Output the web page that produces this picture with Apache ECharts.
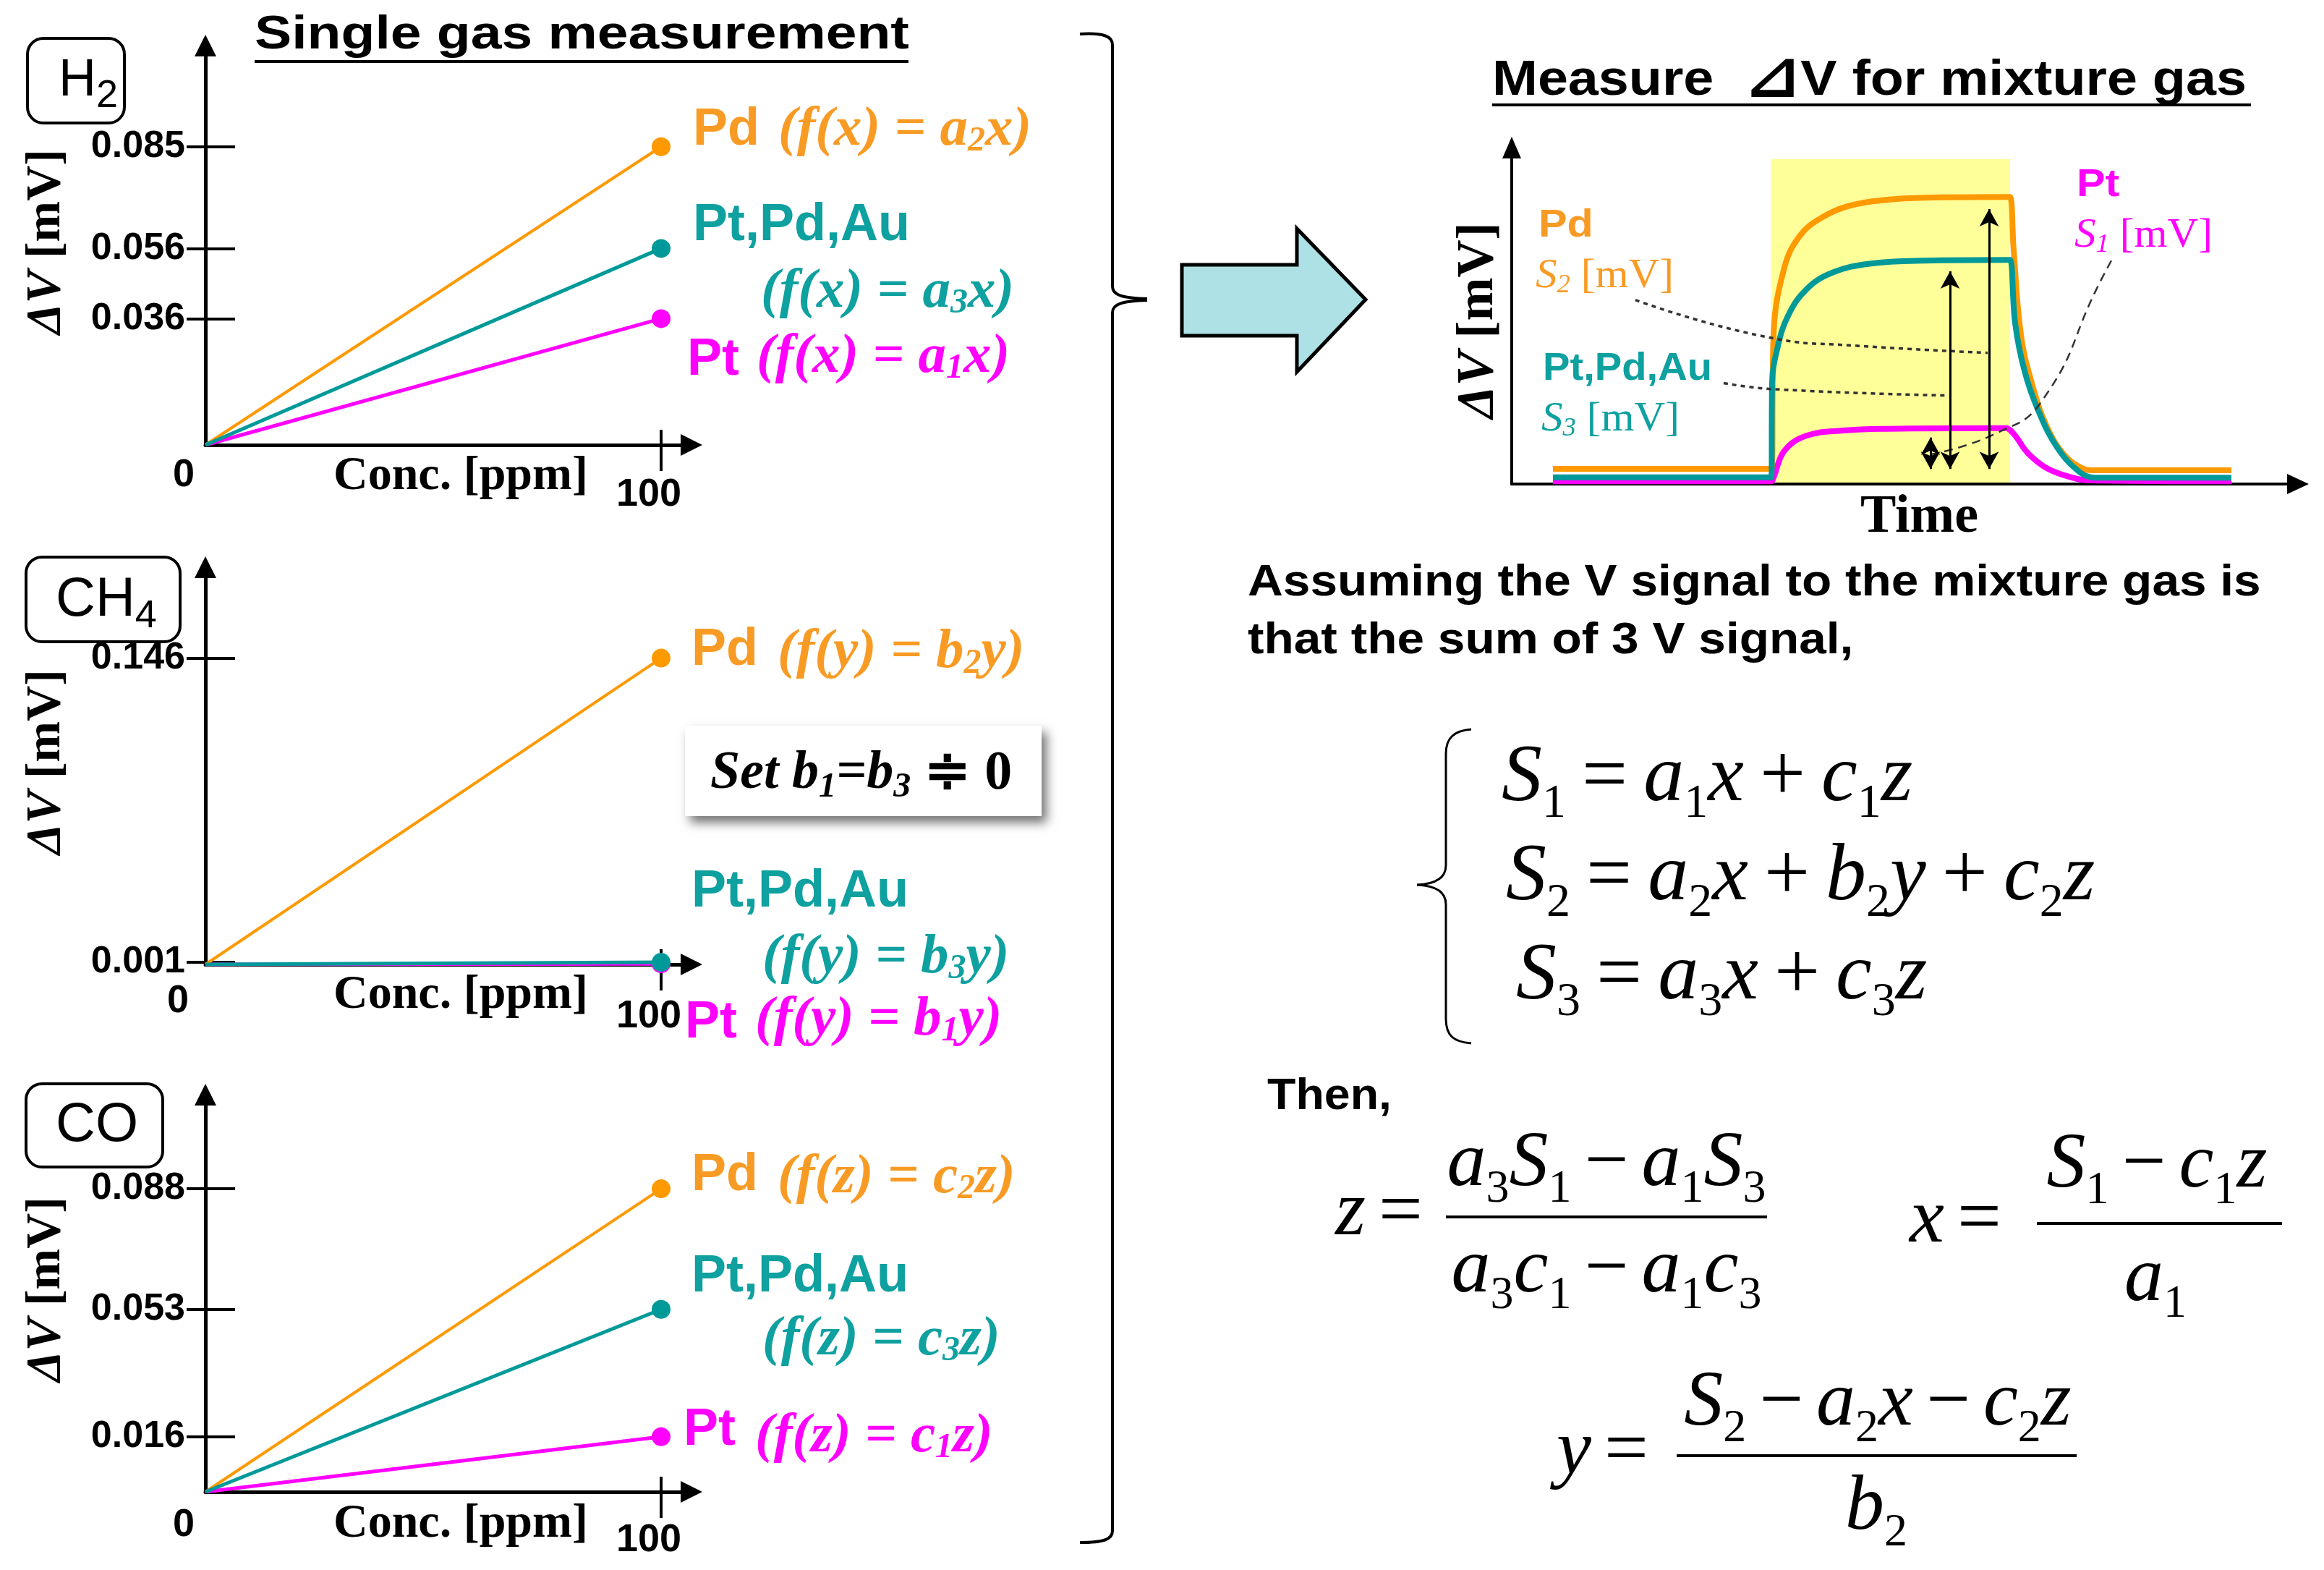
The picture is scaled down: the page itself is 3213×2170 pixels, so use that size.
<!DOCTYPE html>
<html>
<head>
<meta charset="utf-8">
<title>Single gas measurement / mixture gas</title>
<script src="https://cdn.jsdelivr.net/npm/echarts@6.0.0/dist/echarts.min.js"></script>
<style>
html, body { margin: 0; padding: 0; background: #ffffff; }
#chart { width: 3213px; height: 2170px; }
</style>
</head>
<body>
<div id="chart"></div>
<script>
// ===================== DATA =====================
// single gas calibration lines: ΔV [mV] at 0 and 100 ppm
const sensorNames = ['Pt', 'Pd', 'Pt,Pd,Au'];
const concPoints = [0, 100];
const concTicks = [0, 100];
const h2Response = [0.036, 0.085, 0.056];   // a1, a2, a3 (x100)
const ch4Response = [0.0003, 0.146, 0.001]; // b1, b2, b3 (x100)
const coResponse = [0.016, 0.088, 0.053];   // c1, c2, c3 (x100)
const h2Ticks = [0.085, 0.056, 0.036];
const ch4Ticks = [0.146, 0.001];
const coTicks = [0.088, 0.053, 0.016];

// schematic mixture-gas response (time, ΔV in arbitrary units 0-100)
const pdTrace = [[5.7,4.5],[35.4,4.5],[35.9,4.5],[36.2,44.4],[37.7,64.4],[39.8,73.7],[42.8,79.1],[46.9,82.8],[52.0,84.5],[57.1,85.1],[68.5,85.3],[68.9,85.3],[69.4,69.4],[70.4,44.4],[71.9,30.0],[74.0,17.0],[76.5,8.4],[79.1,4.5],[80.2,4.1],[99.5,4.1]];
const triTrace = [[5.7,2.0],[35.4,2.0],[35.9,2.0],[36.0,30.0],[36.7,40.1],[38.2,50.0],[40.8,58.0],[44.4,62.9],[49.5,65.5],[57.1,66.4],[68.5,66.6],[68.9,66.6],[69.6,47.8],[70.9,33.6],[72.9,21.3],[75.5,10.6],[78.6,3.4],[80.6,1.9],[99.5,1.9]];
const ptTrace = [[5.7,0.8],[35.4,0.8],[35.9,0.8],[36.2,1.9],[37.7,9.9],[40.8,14.4],[45.9,15.9],[52.0,16.4],[67.9,16.6],[68.3,16.6],[69.4,14.9],[71.4,9.1],[74.0,4.7],[77.5,1.9],[79.6,1.1],[99.5,0.8]];
const gasWindow = [35.9, 68.9];
const windowTop = 96.6;
const signalTimes = [57.9, 60.6, 66.0];   // S1 (Pt), S3 (Pt,Pd,Au), S2 (Pd)
const signalTops = [16.4, 65.8, 84.3];
const signalBase = 1.9;
const leaderS2 = [[17.1,54.7],[36.2,43.3],[46.9,41.2],[65.8,39.0]];
const leaderS3 = [[29.3,30.0],[36.2,28.2],[60.4,26.3]];
const leaderS1 = [[82.9,66.4],[81.0,58.6],[73.4,25.0],[66.8,14.9],[57.9,8.8]];

// ===================== STYLE =====================
const SANS = '"Liberation Sans", Arial, Helvetica, sans-serif';
const SERIF = '"Liberation Serif", "Times New Roman", Times, serif';
const lineColors = ['#FF00FF', '#FF9900', '#009999'];
const textColors = ['#FF00FF', '#F89B25', '#0FA0A0'];
const lineWidths = [5, 4, 5];

const X_MAX = 100 * 672 / 630;
const panels = [
  { resp: h2Response, ticks: h2Ticks, top: 63, height: 552, pxPerUnit: 4850, zeroShift: 30, zeroMargin: 15, hundredDrop: 27, nameGap: 11 },
  { resp: ch4Response, ticks: ch4Ticks, top: 784, height: 549, pxPerUnit: 2900, zeroShift: 38, zeroMargin: 24, hundredDrop: 21, nameGap: 10 },
  { resp: coResponse, ticks: coTicks, top: 1513, height: 549, pxPerUnit: 4760, zeroShift: 30, zeroMargin: 19, hundredDrop: 21, nameGap: 12 }
];

const grid = [], xAxis = [], yAxis = [], series = [];
const axisLineStyle = { color: '#000', width: 5 };
const tickStyle = { color: '#000', width: 4 };

panels.forEach((p, k) => {
  grid.push({ left: 284, top: p.top, width: 672, height: p.height, containLabel: false, outerBoundsMode: 'none' });
  const ymax = p.height / p.pxPerUnit;
  xAxis.push({
    type: 'value', gridIndex: k, position: 'bottom', min: 0, max: X_MAX,
    axisLine: { show: true, onZero: false, lineStyle: axisLineStyle, symbol: ['none', 'triangle'], symbolSize: [30, 30] },
    axisTick: { show: true, inside: true, length: 21, customValues: [100], lineStyle: tickStyle },
    axisLabel: {
      show: true, customValues: concTicks, margin: p.zeroMargin,
      formatter: v => v === 0 ? '{z|0}' : '{h|' + v + '}',
      rich: {
        z: { fontFamily: SANS, fontWeight: 'bold', fontSize: 54, color: '#000', padding: [0, p.zeroShift * 2, 0, 0] },
        h: { fontFamily: SANS, fontWeight: 'bold', fontSize: 54, color: '#000', padding: [p.hundredDrop, 34, 0, 0] }
      }
    },
    splitLine: { show: false },
    name: 'Conc. [ppm]', nameLocation: 'middle', nameGap: p.nameGap, nameMoveOverlap: false,
    nameTextStyle: { fontFamily: SERIF, fontWeight: 'bold', fontSize: 66, color: '#000', padding: [0, 0, 0, 34] }
  });
  xAxis.push({
    type: 'value', gridIndex: k, position: 'bottom', min: 0, max: X_MAX,
    axisLine: { show: false, onZero: false },
    axisTick: { show: true, inside: false, length: 36, customValues: [100], lineStyle: tickStyle },
    axisLabel: { show: false }, splitLine: { show: false }
  });
  yAxis.push({
    type: 'value', gridIndex: k, position: 'left', min: 0, max: ymax,
    axisLine: { show: true, onZero: false, lineStyle: axisLineStyle, symbol: ['none', 'triangle'], symbolSize: [30, 30] },
    axisTick: { show: true, inside: true, length: 41, customValues: p.ticks, lineStyle: tickStyle },
    axisLabel: { show: true, customValues: p.ticks, margin: 28, formatter: v => v.toFixed(3),
      fontFamily: SANS, fontWeight: 'bold', fontSize: 52, color: '#000' },
    splitLine: { show: false }
  });
  yAxis.push({
    type: 'value', gridIndex: k, position: 'left', min: 0, max: ymax,
    axisLine: { show: false, onZero: false },
    axisTick: { show: true, inside: false, length: 26, customValues: p.ticks, lineStyle: tickStyle },
    axisLabel: { show: false }, splitLine: { show: false }
  });
  sensorNames.forEach((name, i) => {
    series.push({
      name: name, type: 'line', xAxisIndex: 2 * k, yAxisIndex: 2 * k,
      data: [{ value: [concPoints[0], 0], symbol: 'none' }, { value: [concPoints[1], p.resp[i]] }],
      symbol: 'circle', symbolSize: 26, showSymbol: true,
      lineStyle: { color: lineColors[i], width: lineWidths[i] },
      itemStyle: { color: lineColors[i] },
      z: 3 + i, silent: true
    });
  });
});

// time-response chart
grid.push({ left: 2090, top: 204, width: 1087, height: 465, containLabel: false, outerBoundsMode: 'none' });
xAxis.push({
  type: 'value', gridIndex: 3, position: 'bottom', min: 0, max: 108.7, z: 3,
  axisLine: { show: true, onZero: false, lineStyle: { color: '#000', width: 4 }, symbol: ['none', 'triangle'], symbolSize: [28, 30] },
  axisTick: { show: false }, axisLabel: { show: false }, splitLine: { show: false },
  name: 'Time', nameLocation: 'middle', nameGap: 10, nameMoveOverlap: false,
  nameTextStyle: { fontFamily: SERIF, fontWeight: 'bold', fontSize: 74, color: '#000', padding: [0, 0, 0, 40] }
});
yAxis.push({
  type: 'value', gridIndex: 3, position: 'left', min: 0, max: 100, z: 3,
  axisLine: { show: true, onZero: false, lineStyle: { color: '#000', width: 4 }, symbol: ['none', 'triangle'], symbolSize: [26, 30] },
  axisTick: { show: false }, axisLabel: { show: false }, splitLine: { show: false }
});
const TX = 6, TY = 6;
series.push({
  type: 'line', xAxisIndex: TX, yAxisIndex: TY, data: [], silent: true, z: 1,
  markArea: { silent: true, itemStyle: { color: '#FFFF99', opacity: 1 },
    data: [[{ coord: [gasWindow[0], 0] }, { coord: [gasWindow[1], windowTop] }]] }
});
[[ptTrace, 0], [pdTrace, 1], [triTrace, 2]].forEach(([trace, i]) => {
  series.push({
    name: sensorNames[i] + ' response', type: 'line', xAxisIndex: TX, yAxisIndex: TY,
    data: trace, smooth: 0.4, symbol: 'none', silent: true,
    lineStyle: { color: lineColors[i], width: 8, join: 'round' }, z: 3
  });
});
[[leaderS2, [6, 6], 3.5], [leaderS3, [6, 6], 3.5], [leaderS1, [12, 8], 2.5]].forEach(([pts, dash, w]) => {
  series.push({
    type: 'line', xAxisIndex: TX, yAxisIndex: TY, data: pts, smooth: 0.5, symbol: 'none', silent: true,
    lineStyle: { color: '#333', width: w, type: dash }, z: 4
  });
});
const ARROW_INSET = 12 / 4.65;
series.push({
  type: 'line', xAxisIndex: TX, yAxisIndex: TY, data: [], silent: true, z: 5,
  markLine: {
    silent: true, symbol: ['arrow', 'arrow'], symbolSize: [20, 24],
    lineStyle: { color: '#000', width: 3, type: 'solid' }, label: { show: false },
    emphasis: { disabled: true },
    data: signalTimes.map((t, i) => [{ coord: [t, signalBase + ARROW_INSET] }, { coord: [t, signalTops[i] - ARROW_INSET] }])
  }
});

// ===================== GRAPHICS (text & shapes) =====================
function T(x, y, text, o) {
  return {
    type: 'text', x: x, y: y, rotation: o.rot || 0, scaleX: o.sx || 1, z: 50, silent: true,
    style: {
      text: text, fontFamily: o.ff || SANS, fontSize: o.fs || 60, fontWeight: o.fw || 'normal',
      fontStyle: o.fi || 'normal', fill: o.c || '#000', align: o.al || 'left', verticalAlign: 'middle',
      rich: o.rich
    }
  };
}
function L(x1, y1, x2, y2, w) {
  return { type: 'line', z: 50, silent: true, shape: { x1, y1, x2, y2 }, style: { stroke: '#000', lineWidth: w || 4 } };
}
function B(x1, y1, cpx1, cpy1, cpx2, cpy2, x2, y2, w) {
  return { type: 'bezierCurve', z: 50, silent: true, shape: { x1, y1, cpx1, cpy1, cpx2, cpy2, x2, y2 },
    style: { stroke: '#000', lineWidth: w || 4, fill: null } };
}
function fml(x, y, color, pre, sub, post) {
  return T(x, y, '{f|' + pre + '}{s|' + sub + '}{f|' + post + '}', {
    rich: {
      f: { fontFamily: SERIF, fontSize: 77, fontWeight: 'bold', fontStyle: 'italic', fill: color },
      s: { fontFamily: SERIF, fontSize: 48, fontWeight: 'bold', fontStyle: 'italic', fill: color, padding: [32, 0, 0, 0] }
    }
  });
}
const lbl = (x, y, s, i) => T(x, y, s, { fs: 72, fw: 'bold', c: textColors[i] });
const dvRich = (fs) => ({
  i: { fontFamily: SERIF, fontSize: fs, fontWeight: 'bold', fontStyle: 'italic', fill: '#000' },
  r: { fontFamily: SERIF, fontSize: fs, fontWeight: 'bold', fill: '#000' }
});
const sRich = (color) => ({
  i: { fontFamily: SERIF, fontSize: 58, fontStyle: 'italic', fill: color },
  s: { fontFamily: SERIF, fontSize: 36, fontStyle: 'italic', fill: color, padding: [26, 0, 0, 0] },
  r: { fontFamily: SERIF, fontSize: 58, fill: color }
});
const EQ = 112;
const eqRich = {
  i: { fontFamily: SERIF, fontSize: EQ, fontStyle: 'italic', fill: '#000' },
  s: { fontFamily: SERIF, fontSize: 66, fill: '#000', padding: [70, 0, 0, 0] },
  o: { fontFamily: SERIF, fontSize: EQ, fill: '#000', padding: [0, 22, 0, 22] }
};
const fracRich = {
  i: { fontFamily: SERIF, fontSize: 108, fontStyle: 'italic', fill: '#000' },
  s: { fontFamily: SERIF, fontSize: 64, fill: '#000', padding: [68, 0, 0, 0] },
  o: { fontFamily: SERIF, fontSize: 108, fill: '#000', padding: [0, 18, 0, 18] }
};
const eq = (x, y, s, al) => T(x, y, s, { rich: eqRich, al: al || 'left' });
const fr = (x, y, s, al) => T(x, y, s, { rich: fracRich, al: al || 'left' });

const elements = [
  // titles
  T(352, 49, 'Single gas measurement', { fs: 64, fw: 'bold', sx: 1.2 }),
  L(352, 85, 1256, 85, 4),
  T(2063, 112, '{a|Measure  }{t|\u22BF}{a|V for mixture gas}', { sx: 1.11, rich: {
    a: { fontFamily: SANS, fontSize: 68, fontWeight: 'bold', fill: '#000' },
    t: { fontFamily: '"DejaVu Sans", sans-serif', fontSize: 84, fontWeight: 'bold', fill: '#000' } } }),
  L(2063, 145, 3112, 145, 4),

  // gas boxes
  { type: 'rect', z: 40, silent: true, shape: { x: 38, y: 53, width: 134, height: 117, r: 22 }, style: { fill: '#fff', stroke: '#000', lineWidth: 4 } },
  T(81, 112, '{m|H}{s|2}', { rich: { m: { fontFamily: SANS, fontSize: 72, fill: '#000' }, s: { fontFamily: SANS, fontSize: 54, fill: '#000', padding: [42, 0, 0, 0] } } }),
  { type: 'rect', z: 40, silent: true, shape: { x: 36, y: 770, width: 213, height: 117, r: 22 }, style: { fill: '#fff', stroke: '#000', lineWidth: 4 } },
  T(77, 830, '{m|CH}{s|4}', { rich: { m: { fontFamily: SANS, fontSize: 76, fill: '#000' }, s: { fontFamily: SANS, fontSize: 54, fill: '#000', padding: [44, 0, 0, 0] } } }),
  { type: 'rect', z: 40, silent: true, shape: { x: 36, y: 1498, width: 189, height: 115, r: 22 }, style: { fill: '#fff', stroke: '#000', lineWidth: 4 } },
  T(77, 1556, 'CO', { fs: 76 }),

  // ΔV axis titles (left)
  T(64, 334, '{i|\u0394V}{r| [mV]}', { rot: Math.PI / 2, al: 'center', rich: dvRich(68) }),
  T(64, 1053, '{i|\u0394V}{r| [mV]}', { rot: Math.PI / 2, al: 'center', rich: dvRich(68) }),
  T(64, 1782, '{i|\u0394V}{r| [mV]}', { rot: Math.PI / 2, al: 'center', rich: dvRich(68) }),

  // H2 labels
  lbl(958, 180, 'Pd', 1), fml(1076, 180, textColors[1], '(f(x) = a', '2', 'x)'),
  lbl(958, 312, 'Pt,Pd,Au', 2), fml(1052, 404, textColors[2], '(f(x) = a', '3', 'x)'),
  lbl(950, 498, 'Pt', 0), fml(1046, 494, textColors[0], '(f(x) = a', '1', 'x)'),
  // CH4 labels
  lbl(956, 899, 'Pd', 1), fml(1075, 902, textColors[1], '(f(y) = b', '2', 'y)'),
  lbl(956, 1233, 'Pt,Pd,Au', 2), fml(1054, 1324, textColors[2], '(f(y) = b', '3', 'y)'),
  lbl(947, 1414, 'Pt', 0), fml(1044, 1410, textColors[0], '(f(y) = b', '1', 'y)'),
  // CO labels
  lbl(956, 1625, 'Pd', 1), fml(1075, 1628, textColors[1], '(f(z) = c', '2', 'z)'),
  lbl(956, 1765, 'Pt,Pd,Au', 2), fml(1054, 1852, textColors[2], '(f(z) = c', '3', 'z)'),
  lbl(945, 1977, 'Pt', 0), fml(1044, 1986, textColors[0], '(f(z) = c', '1', 'z)'),

  // "Set b1=b3 ≑ 0" box
  { type: 'rect', z: 40, silent: true, shape: { x: 947, y: 1003, width: 493, height: 125 },
    style: { fill: '#fff', shadowBlur: 14, shadowOffsetX: 7, shadowOffsetY: 9, shadowColor: 'rgba(0,0,0,0.55)' } },
  T(982, 1070, '{f|Set b}{s|1}{f|=b}{s|3}{u| \u2251 0}', { rich: {
    f: { fontFamily: SERIF, fontSize: 74, fontWeight: 'bold', fontStyle: 'italic', fill: '#000' },
    s: { fontFamily: SERIF, fontSize: 48, fontWeight: 'bold', fontStyle: 'italic', fill: '#000', padding: [38, 0, 0, 0] },
    u: { fontFamily: SERIF, fontSize: 76, fontWeight: 'bold', fill: '#000' } } }),

  // big right brace
  B(1493, 47, 1525, 45, 1538, 50, 1538, 62, 4),
  L(1538, 62, 1538, 396, 4),
  B(1538, 396, 1538, 408, 1552, 412, 1586, 413, 4),
  B(1586, 415, 1552, 416, 1538, 420, 1538, 432, 4),
  L(1538, 432, 1538, 2116, 4),
  B(1538, 2116, 1538, 2128, 1525, 2132, 1493, 2132, 4),

  // block arrow
  { type: 'polygon', z: 40, silent: true,
    shape: { points: [[1634, 366], [1793, 366], [1793, 316], [1888, 414], [1793, 514], [1793, 464], [1634, 464]] },
    style: { fill: '#ADE1E5', stroke: '#000', lineWidth: 5, lineJoin: 'miter' } },

  // time chart labels
  T(2044, 443, '{i|\u0394V}{r| [mV]}', { rot: Math.PI / 2, al: 'center', rich: dvRich(72) }),
  T(2127, 312, 'Pd', { fs: 54, fw: 'bold', c: textColors[1], sx: 1.1 }),
  T(2123, 382, '{i|S}{s|2}{r| [mV]}', { rich: sRich(textColors[1]), sx: 1.02 }),
  T(2133, 510, 'Pt,Pd,Au', { fs: 54, fw: 'bold', c: textColors[2], sx: 1.04 }),
  T(2131, 580, '{i|S}{s|3}{r| [mV]}', { rich: sRich(textColors[2]), sx: 1.02 }),
  T(2871, 256, 'Pt', { fs: 54, fw: 'bold', c: textColors[0], sx: 1.1 }),
  T(2868, 326, '{i|S}{s|1}{r| [mV]}', { rich: sRich(textColors[0]), sx: 1.02 }),

  // explanation text
  T(1725, 806, 'Assuming the V signal to the mixture gas is', { fs: 62, fw: 'bold', sx: 1.09 }),
  T(1725, 886, 'that the sum of 3 V signal,', { fs: 62, fw: 'bold', sx: 1.09 }),

  // equation system
  B(2034, 1008, 2010, 1010, 1999, 1020, 1999, 1042, 3),
  L(1999, 1042, 1999, 1196, 3),
  B(1999, 1196, 1999, 1215, 1982, 1222, 1959, 1223, 3),
  B(1959, 1223, 1982, 1224, 1999, 1231, 1999, 1250, 3),
  L(1999, 1250, 1999, 1408, 3),
  B(1999, 1408, 1999, 1432, 2010, 1440, 2034, 1442, 3),
  eq(2076, 1077, '{i|S}{s|1}{o|=}{i|a}{s|1}{i|x}{o|+}{i|c}{s|1}{i|z}'),
  eq(2082, 1214, '{i|S}{s|2}{o|=}{i|a}{s|2}{i|x}{o|+}{i|b}{s|2}{i|y}{o|+}{i|c}{s|2}{i|z}'),
  eq(2096, 1351, '{i|S}{s|3}{o|=}{i|a}{s|3}{i|x}{o|+}{i|c}{s|3}{i|z}'),

  T(1752, 1516, 'Then,', { fs: 62, fw: 'bold', sx: 1.04 }),

  // z = ...
  fr(1846, 1678, '{i|z}{o|=}'),
  fr(2221, 1610, '{i|a}{s|3}{i|S}{s|1}{o|\u2212}{i|a}{s|1}{i|S}{s|3}', 'center'),
  L(1999, 1682, 2443, 1682, 4),
  fr(2221, 1757, '{i|a}{s|3}{i|c}{s|1}{o|\u2212}{i|a}{s|1}{i|c}{s|3}', 'center'),
  // x = ...
  fr(2640, 1688, '{i|x}{o|=}'),
  fr(2982, 1612, '{i|S}{s|1}{o|\u2212}{i|c}{s|1}{i|z}', 'center'),
  L(2816, 1691, 3155, 1691, 4),
  fr(2980, 1769, '{i|a}{s|1}', 'center'),
  // y = ...
  fr(2152, 2008, '{i|y}{o|=}'),
  fr(2596, 1941, '{i|S}{s|2}{o|\u2212}{i|a}{s|2}{i|x}{o|\u2212}{i|c}{s|2}{i|z}', 'center'),
  L(2318, 2012, 2871, 2012, 4),
  fr(2594, 2085, '{i|b}{s|2}', 'center')
];

const chart = echarts.init(document.getElementById('chart'), null, { renderer: 'canvas' });
chart.setOption({
  backgroundColor: '#ffffff',
  animation: false,
  grid: grid,
  xAxis: xAxis,
  yAxis: yAxis,
  series: series,
  graphic: { elements: elements }
});
</script>
</body>
</html>
